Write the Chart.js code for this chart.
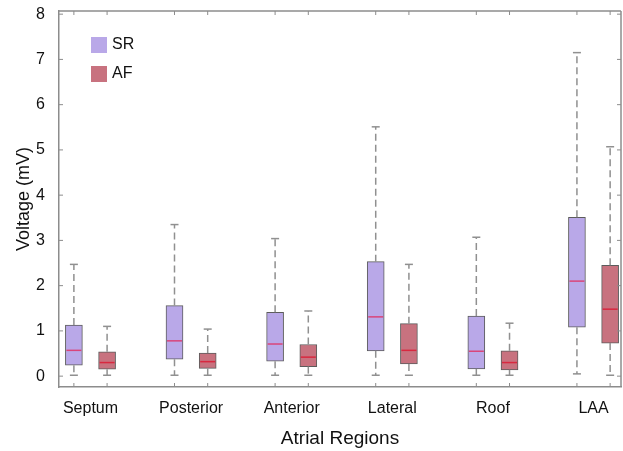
<!DOCTYPE html>
<html>
<head>
<meta charset="utf-8">
<script src="https://cdn.jsdelivr.net/npm/chart.js@4/dist/chart.umd.min.js"></script>
<style>
  html, body { margin: 0; padding: 0; background: #fff; }
  #wrap { width: 623px; height: 451px; }
</style>
</head>
<body>
<div id="wrap"><canvas id="boxChart"></canvas></div>
<script>
// Data (mV)
const regions = ['Septum', 'Posterior', 'Anterior', 'Lateral', 'Roof', 'LAA'];

const srMin = [0.02, 0.02, 0.02, 0.02, 0.02, 0.05];
const srQ1  = [0.24, 0.375, 0.33, 0.56, 0.16, 1.08];
const srMed = [0.57, 0.78, 0.71, 1.31, 0.55, 2.10];
const srQ3  = [1.13, 1.56, 1.41, 2.53, 1.33, 3.51];
const srMax = [2.47, 3.35, 3.04, 5.51, 3.07, 7.15];

const afMin = [0.02, 0.02, 0.02, 0.02, 0.02, 0.02];
const afQ1  = [0.155, 0.17, 0.21, 0.27, 0.14, 0.73];
const afMed = [0.30, 0.32, 0.42, 0.57, 0.30, 1.48];
const afQ3  = [0.54, 0.51, 0.70, 1.16, 0.56, 2.45];
const afMax = [1.10, 1.04, 1.44, 2.47, 1.17, 5.07];

const yTicks = [0, 1, 2, 3, 4, 5, 6, 7, 8];

const SR_FILL = '#b9a8e8';
const AF_FILL = '#c8727f';
const OFFSET = 0.165; // half distance between the two boxes of a region

const series = [
  { label: 'SR', fill: SR_FILL, median: '#d9457a', min: srMin, q1: srQ1, med: srMed, q3: srQ3, max: srMax, shift: -OFFSET },
  { label: 'AF', fill: AF_FILL, median: '#d8283f', min: afMin, q1: afQ1, med: afMed, q3: afQ3, max: afMax, shift: OFFSET }
];

const line = (ctx, x1, y1, x2, y2) => {
  ctx.beginPath();
  ctx.moveTo(x1, y1);
  ctx.lineTo(x2, y2);
  ctx.stroke();
};

// whiskers, medians, frame, inward ticks and the legend
const boxExtras = {
  id: 'boxExtras',
  afterDatasetsDraw(chart) {
    const { ctx, chartArea: a, scales: { x, y } } = chart;
    ctx.save();
    series.forEach((s, d) => {
      chart.getDatasetMeta(d).data.forEach((bar, i) => {
        const bx = bar.x;
        const top = y.getPixelForValue(s.q3[i]);
        const bot = y.getPixelForValue(s.q1[i]);
        const hi = y.getPixelForValue(s.max[i]);
        const lo = y.getPixelForValue(s.min[i]);
        const md = y.getPixelForValue(s.med[i]);

        ctx.strokeStyle = '#909090';
        ctx.lineWidth = 1.5;
        ctx.setLineDash([7, 4]);
        line(ctx, bx, top, bx, hi);
        line(ctx, bx, bot, bx, lo);
        ctx.setLineDash([]);
        line(ctx, bx - 4, hi, bx + 4, hi);
        line(ctx, bx - 4, lo, bx + 4, lo);

        ctx.strokeStyle = s.median;
        ctx.lineWidth = 1.5;
        line(ctx, bx - 7.5, md, bx + 7.5, md);
      });
    });

    // frame on top and right
    ctx.strokeStyle = '#8c8c8c';
    ctx.lineWidth = 1.5;
    line(ctx, a.left, a.top, a.right, a.top);
    line(ctx, a.right, a.top, a.right, a.bottom);

    // inward tick marks
    ctx.lineWidth = 1;
    series.forEach((s) => {
      regions.forEach((_, i) => {
        const px = x.getPixelForValue(i + s.shift);
        line(ctx, px, a.bottom, px, a.bottom - 4);
        line(ctx, px, a.top, px, a.top + 4);
      });
    });
    yTicks.forEach((v) => {
      const py = y.getPixelForValue(v);
      line(ctx, a.left, py, a.left + 4, py);
      line(ctx, a.right, py, a.right - 4, py);
    });

    // legend
    ctx.font = '16px "Liberation Sans", Arial, sans-serif';
    ctx.textBaseline = 'middle';
    ctx.textAlign = 'left';
    series.forEach((s, d) => {
      const lx = a.left + 32;
      const ly = a.top + 26 + d * 29;
      ctx.fillStyle = s.fill;
      ctx.fillRect(lx, ly, 16, 16);
      ctx.fillStyle = '#111';
      ctx.fillText(s.label, lx + 21, ly + 8);
    });
    ctx.restore();
  }
};

const ctx = document.getElementById('boxChart').getContext('2d');

const boxChart = new Chart(ctx, {
  type: 'bar',
  data: {
    datasets: series.map((s) => ({
      label: s.label,
      data: regions.map((_, i) => ({ x: i + s.shift, y: [s.q1[i], s.q3[i]] })),
      backgroundColor: s.fill,
      borderColor: '#5c5c5c',
      borderWidth: 1,
      borderSkipped: false,
      barThickness: 17,
      grouped: false
    }))
  },
  options: {
    responsive: true,
    maintainAspectRatio: false,
    animation: false,
    layout: { padding: { top: 11, right: 2, left: 0, bottom: 0 } },
    plugins: {
      legend: { display: false },
      tooltip: { enabled: false }
    },
    scales: {
      x: {
        type: 'linear',
        offset: false,
        min: -0.313,
        max: 5.273,
        afterBuildTicks: (scale) => { scale.ticks = regions.map((_, i) => ({ value: i })); },
        afterFit: (scale) => { scale.height = 64; scale.paddingLeft = 0; scale.paddingRight = 0; },
        ticks: {
          callback: (v) => regions[v],
          font: { family: '"Liberation Sans", Arial, sans-serif', size: 16 },
          color: '#111',
          padding: 4,
          maxRotation: 0
        },
        grid: { display: false },
        border: { color: '#8c8c8c', width: 1.5 },
        title: {
          display: true,
          text: 'Atrial Regions',
          font: { family: '"Liberation Sans", Arial, sans-serif', size: 19 },
          color: '#111',
          padding: { top: 4, bottom: 1 }
        }
      },
      y: {
        min: -0.24,
        max: 8.07,
        afterBuildTicks: (scale) => { scale.ticks = yTicks.map((v) => ({ value: v })); },
        afterFit: (scale) => { scale.width = 59; scale.paddingTop = 0; scale.paddingBottom = 0; },
        ticks: {
          font: { family: '"Liberation Sans", Arial, sans-serif', size: 16 },
          color: '#111',
          padding: 6
        },
        grid: { display: false },
        border: { color: '#8c8c8c', width: 1.5 },
        title: {
          display: true,
          text: 'Voltage (mV)',
          font: { family: '"Liberation Sans", Arial, sans-serif', size: 18 },
          color: '#111',
          padding: { top: 13, bottom: 0 }
        }
      }
    }
  },
  plugins: [boxExtras]
});
</script>
</body>
</html>
